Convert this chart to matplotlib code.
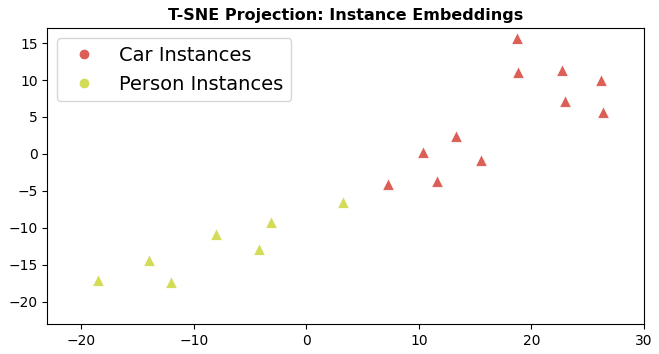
import matplotlib
matplotlib.use("Agg")
import matplotlib.pyplot as plt
from matplotlib.lines import Line2D
import seaborn as sns

# t-sne coords
car_x = [18.7, 18.8, 22.7, 26.2, 23.0, 26.4, 13.3, 10.4, 15.5, 7.3, 11.6]
car_y = [15.7, 11.1, 11.3, 10.0, 7.2, 5.7, 2.4, 0.3, -0.8, -4.1, -3.6]
person_x = [3.3, -3.1, -8.0, -4.2, -14.0, -18.5, -12.0]
person_y = [-6.5, -9.2, -10.9, -12.8, -14.3, -17.1, -17.3]
labels = ["Car Instances", "Person Instances"]

pal = sns.color_palette("hls", 6)
car_col = pal[0]
person_col = pal[1]

fig, ax = plt.subplots(figsize=(6.59, 3.54), dpi=100)
ax.scatter(car_x, car_y, marker="^", s=70, color=car_col, edgecolors="white", linewidths=0.5)
ax.scatter(person_x, person_y, marker="^", s=70, color=person_col, edgecolors="white", linewidths=0.5)

ax.set_xlim(-23, 30)
ax.set_ylim(-23, 17)
ax.set_title("T-SNE Projection: Instance Embeddings", fontweight="bold", fontsize=11.5)

handles = [Line2D([], [], marker="o", linestyle="", color=car_col, markersize=6),
           Line2D([], [], marker="o", linestyle="", color=person_col, markersize=6)]
ax.legend(handles, labels, loc="upper left", fontsize=14)

plt.subplots_adjust(left=0.072, right=0.977, top=0.92, bottom=0.085)
plt.savefig("out.png", dpi=100)
